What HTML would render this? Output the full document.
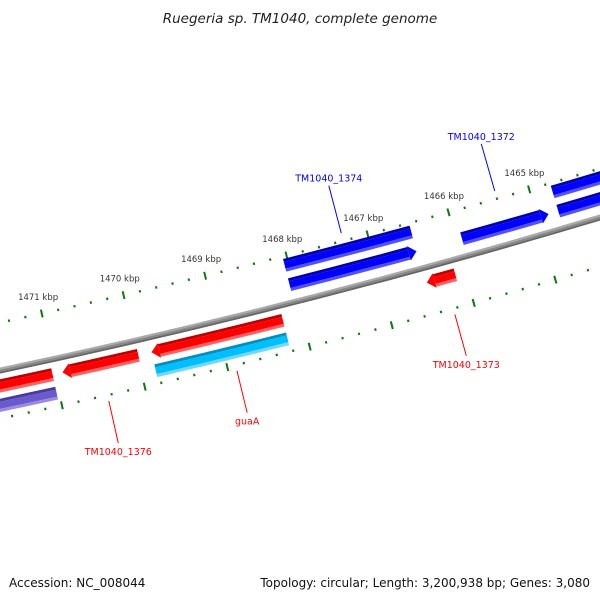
<!DOCTYPE html>
<html><head><meta charset="utf-8"><style>
body{margin:0;background:#fff}
svg{display:block}
text{font-family:"DejaVu Sans","Liberation Sans",sans-serif}
</style></head><body>
<svg id="map" width="600" height="600" viewBox="0 0 600 600">
<text x="300" y="23" text-anchor="middle" font-size="13.5" font-style="italic" fill="#222">Ruegeria sp. TM1040, complete genome</text>
<text x="9" y="587" font-size="12" fill="#111">Accession: NC_008044</text>
<text x="590" y="587" text-anchor="end" font-size="12" fill="#111">Topology: circular; Length: 3,200,938 bp; Genes: 3,080</text>
<g id="g"></g>
</svg>
<script>
// data (kbp)
const tickKbp = [1465,1466,1467,1468,1469,1470,1471];
const tickLabels = ["1465 kbp","1466 kbp","1467 kbp","1468 kbp","1469 kbp","1470 kbp","1471 kbp"];
const geneStarts = [1466.49,1466.49,1464.86,1463.0,1463.0,1466.12,1468.23,1468.23,1469.99,1471.03,1471.03];
const geneEnds   = [1468.05,1468.05,1465.93,1464.74,1464.74,1466.47,1469.83,1469.83,1470.91,1473.0,1473.0];
const geneTracks = [-38,-18,-18,-38,-18,15,15,34,15,15,34];
const geneArrows = [0,1,1,0,0,-1,-1,0,-1,0,0];
const geneColors = ["blue","blue","blue","blue","blue","red","red","cyan","red","red","purple"];
const labelNames = ["TM1040_1374","TM1040_1372","TM1040_1373","guaA","TM1040_1376"];
const labelKbp = [1467.3,1465.4,1466.25,1468.9,1470.45];
const labelColors = ["#0000ff","#0000ff","#ff0000","#ff0000","#ff0000"];
const labelSide = [-1,-1,1,1,1];

const CX=-1577, CY=-7064, R=7600, A0=1.3215, APK=0.0111;
function ang(k){return A0+(k-1468)*APK;}
function pt(k,r){const a=ang(k);return [CX+(R+r)*Math.cos(a), CY+(R+r)*Math.sin(a)];}
const NS="http://www.w3.org/2000/svg";
const g=document.getElementById('g');
function mk(tag,attrs){const e=document.createElementNS(NS,tag);for(const k in attrs)e.setAttribute(k,attrs[k]);g.appendChild(e);return e;}
function band(k1,k2,r1,r2){
  const a=pt(k1,r1),b=pt(k2,r1),c=pt(k2,r2),d=pt(k1,r2);
  return `M${a[0]},${a[1]} A${R+r1},${R+r1} 0 0 1 ${b[0]},${b[1]} L${c[0]},${c[1]} A${R+r2},${R+r2} 0 0 0 ${d[0]},${d[1]} Z`;
}
const bbCols=["#aaaaaa","#888888","#666666"];
for(let i=0;i<3;i++){
  const p=mk('path',{d:band(1462,1474,-3+i*2,-1+i*2),fill:bbCols[i]});
  
  
}
for(const side of [-1,1]){
  for(let k=1462;k<=1474.001;k+=0.2){
    const kk=Math.round(k*10)/10;
    const major=Math.abs(kk-Math.round(kk))<0.01;
    const half=major?4:1.2;
    const p=mk('path',{d:band(kk-0.012,kk+0.012,side*47-half,side*47+half),fill:"#117711"});
    
    
  }
}
tickKbp.forEach((k,i)=>{
  const p=pt(k,-64);
  const t=mk('text',{x:p[0],y:p[1]+3,'text-anchor':'middle','font-size':'8.5',fill:'#333'});
  t.textContent=tickLabels[i];
  
  
});
const pal={blue:["#0000b0","#0000ff","#5050ff"],red:["#c00000","#ff0000","#ff6060"],cyan:["#0090c0","#00bfff","#70d8ff"],purple:["#4a3aa0","#6a5acd","#9a8ae0"]};
const H=13, AL=8/(R*APK);
geneStarts.forEach((s,i)=>{
  const e=geneEnds[i], r=geneTracks[i], cols=pal[geneColors[i]], arr=geneArrows[i];
  let k1=s,k2=e;
  if(arr===1) k1=s+AL; if(arr===-1) k2=e-AL;
  const grp=document.createElementNS(NS,'g');g.appendChild(grp);
  
  
  const bands=[[-H/2,-H/2+3,0],[-H/2+3,H/2-3,1],[H/2-3,H/2,2]];
  bands.forEach(b=>{
    const p=document.createElementNS(NS,'path');
    p.setAttribute('d',band(k1,k2,r+b[0],r+b[1]));p.setAttribute('fill',cols[b[2]]);grp.appendChild(p);
  });
  if(arr!==0){
    const base=arr===1?k1:k2, tip=arr===1?s:e;
    const a=pt(base,r-H/2-1),b=pt(tip,r),c=pt(base,r+H/2+1);
    const p=document.createElementNS(NS,'path');
    p.setAttribute('d',`M${a[0]},${a[1]} L${b[0]},${b[1]} L${c[0]},${c[1]} Z`);p.setAttribute('fill',cols[1]);grp.appendChild(p);
  }
});
labelNames.forEach((n,i)=>{
  const sd=labelSide[i];
  const p1=pt(labelKbp[i],sd<0?-55:53), p2=pt(labelKbp[i],sd<0?-104:96);
  const l=mk('line',{x1:p1[0],y1:p1[1],x2:p2[0],y2:p2[1],stroke:labelColors[i],'stroke-width':1});
  
  
  const t=mk('text',{x:p2[0],y:sd<0?p2[1]-4:p2[1]+12,'text-anchor':'middle','font-size':'9.5',fill:labelColors[i]});
  t.textContent=n;
  
  
});
</script>
</body></html>
